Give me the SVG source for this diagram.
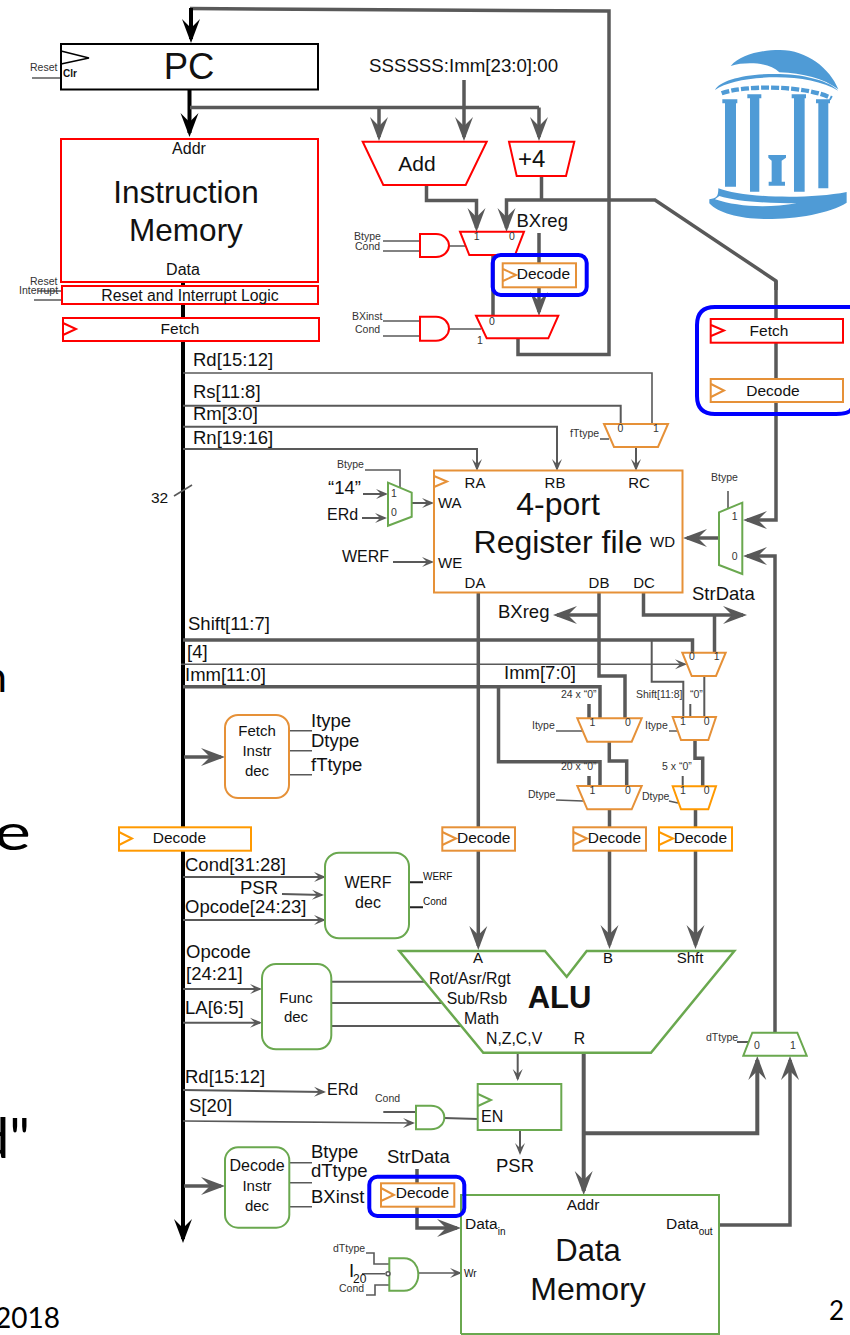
<svg xmlns="http://www.w3.org/2000/svg" width="850" height="1335" viewBox="0 0 850 1335">
<defs>
<marker id="bg" markerUnits="userSpaceOnUse" markerWidth="30" markerHeight="24" refX="22" refY="12" orient="auto"><path d="M26,12 L2,3 L11,12 L2,21 Z" fill="#595959"/></marker>
<marker id="bk" markerUnits="userSpaceOnUse" markerWidth="30" markerHeight="24" refX="22" refY="12" orient="auto"><path d="M26,12 L2,3 L11,12 L2,21 Z" fill="#000"/></marker>
<marker id="sm" markerUnits="userSpaceOnUse" markerWidth="16" markerHeight="14" refX="11" refY="7" orient="auto"><path d="M13,7 L1,2 L6,7 L1,12 Z" fill="#595959"/></marker>
</defs>
<style>
text{font-family:"Liberation Sans",Arial,sans-serif;fill:#111}
.f18{font-size:18.500px}.f16{font-size:16px}.f15{font-size:15.500px}.f10{font-size:10.500px;fill:#333}
.m{text-anchor:middle}
.w{fill:none;stroke:#595959;stroke-width:3.500}
.n{fill:none;stroke:#595959;stroke-width:2}
.t{fill:none;stroke:#595959;stroke-width:1.600}
.bl{fill:none;stroke:#000;stroke-width:4}
.a{marker-end:url(#bg)}.ak{marker-end:url(#bk)}.as{marker-end:url(#sm)}
.r{fill:#fff;stroke:#f00;stroke-width:2}
.o{fill:#fff;stroke:#e69138;stroke-width:2}
.y{fill:#fff;stroke:#f90;stroke-width:2}
.g{fill:#fff;stroke:#6aa84f;stroke-width:2}
.blue{fill:none;stroke:#00f;stroke-width:4}
.logo{fill:#4f9bd6}
.hand{font-family:"Lato",sans-serif;fill:#000;font-weight:400}
</style>

<g id="connectors">
<path class="w" d="M518,338V354.500H609V11L190,8.500"/>
<path class="bl ak" d="M191,8V39"/>
<path class="bl ak" d="M189.500,90V133"/>
<path class="bl ak" d="M183,282V1239"/>
<path class="w" d="M190,107.500H539"/>
<path class="w a" d="M379,107.500V137"/>
<path class="w a" d="M464,80V137"/>
<path class="w a" d="M539,107.500V137"/>
<path class="w" d="M541.500,176V200"/>
<path class="w a" d="M426.500,185V200.500H476.500V228"/>
<path class="w a" d="M776,290V281L655,200H506.500V228"/>
<path class="w a" d="M776,281V520H747"/>
<path class="w a" d="M539,233V312"/>
<path class="w" d="M493,255V316"/>
<path class="t" d="M383,241H420M383,251H420M449,246H465M383,321H420M383,336H420M449,329H481"/>
<path class="t" d="M32,78H61M34,300H62M38,291H62"/>
<path class="t" d="M183,373H652V424"/>
<path class="n" d="M183,405.700H620.700V424"/>
<path class="n as" d="M183,426.700H557V469"/>
<path class="n as" d="M183,449H477V469"/>
<path class="n as" d="M636,447V469"/>
<path class="t" d="M600,439H609"/>
<path class="t" d="M174,496L192,485"/>
<path class="t" d="M365,470H400V488"/>
<path class="n as" d="M363,494H386"/>
<path class="n as" d="M362,518H385"/>
<path class="n as" d="M412,503H432"/>
<path class="n as" d="M393,562H432"/>
<path class="w a" d="M775,1032V556H747"/>
<path class="w a" d="M719,538H687"/>
<path class="t" d="M728,491V508"/>
<path class="w a" d="M643.500,592V615H743"/>
<path class="w" d="M714.500,615V653"/>
<path class="w" d="M599,592V676H625V718"/>
<path class="w a" d="M599,615H557"/>
<path class="w" d="M183,640H692.500V653"/>
<path class="t as" d="M181,664.300H685"/>
<path class="n" d="M651.700,640V681.700H683.300V718"/>
<path class="w" d="M183,686.700H600V718"/>
<path class="w" d="M498.500,686.700V761.700H600V786"/>
<path class="w" d="M589,704V718M589,776V786"/>
<path class="n" d="M690.300,704V717M682.700,776V786"/>
<path class="n" d="M704.300,676V717"/>
<path class="w" d="M609.300,742V761H626.700V786"/>
<path class="w" d="M695,740V758.300H702.700V786"/>
<path class="t" d="M556,731H583M556,800L583,801M669,731H678M669,801L678,803"/>
<path class="w a" d="M478.300,592V946"/>
<path class="w a" d="M609.500,809V945"/>
<path class="w a" d="M695.500,809V945"/>
<path class="w a" d="M184,757H221"/>
<path class="t" d="M290,730.700H312M290,750.700H312M290,774.700H312"/>
<path class="n as" d="M183,877H324"/>
<path class="n as" d="M282,894L322,895"/>
<path class="n as" d="M183,920H324"/>
<path class="n" style="stroke:#222" d="M409,882.300H423M409,907.300H423"/>
<path class="n as" d="M183,989H260"/>
<path class="n as" d="M183,1022.700H260"/>
<path class="n" d="M331,981.700H425M331,1003H442M331,1026H463"/>
<path class="n as" d="M517.700,1053V1079"/>
<path class="n as" d="M520,1130V1153"/>
<path class="n" d="M444,1118L478,1119M383.300,1112H416"/>
<path class="n as" d="M183,1090L324,1092"/>
<path class="t as" d="M183,1121L413,1123"/>
<path class="w a" d="M583.700,1053V1191" style="stroke-width:4"/>
<path class="w a" d="M583.700,1133.300H757.300V1060" style="stroke-width:4"/>
<path class="w a" d="M719,1225H790V1060"/>
<path class="n" d="M737,1042H749"/>
<path class="w a" d="M184,1186H221"/>
<path class="t" d="M290,1162.700H312M290,1182.700H312M290,1206.700H312"/>
<path class="w a" d="M417,1169V1228H457"/>
<path class="t as" d="M418,1273H460"/>
<path class="t" d="M366,1253H374V1264H389M362,1273.700H385M366,1295H375V1285H389"/>
</g>

<g id="pc"><rect x="61" y="44" width="257" height="45.500" fill="#fff" stroke="#000" stroke-width="2"/><path d="M61,51L89,58L61,64" fill="none" stroke="#000" stroke-width="1.500"/>
<text x="189" y="79" font-size="36.500" class="m">PC</text><text x="63" y="77" font-size="10" font-weight="bold">Clr</text><text x="30" y="71" class="f10">Reset</text></g>

<g id="imem"><rect class="r" x="61" y="139" width="257" height="143"/><text x="189" y="154" class="f16 m">Addr</text><text x="186" y="203" font-size="31.500" class="m">Instruction</text><text x="186" y="241" font-size="31.500" class="m">Memory</text><text x="183" y="275" class="f16 m">Data</text></g>

<g id="reset-logic"><rect class="r" x="62" y="286" width="256" height="18"/><text x="190" y="300.500" class="m" style="font-size:15.800px">Reset and Interrupt Logic</text><text x="30" y="285" class="f10">Reset</text><text x="19" y="294" class="f10">Interrupt</text></g>

<g id="fetch-left"><rect class="r" x="63" y="318" width="256" height="23"/><path fill="none" stroke="#f00" stroke-width="2" d="M63,323L76,329L63,335"/><text x="180" y="334" class="f15 m">Fetch</text></g>

<g id="add"><path class="r" d="M362.700,141.700H486.700L465.700,185H383.300Z"/><text x="417" y="171" font-size="21" class="m">Add</text></g>
<g id="plus4"><path class="r" d="M509,141.700H574.300L566,176H516.700Z"/><text x="518" y="166.500" font-size="24">+4</text></g>
<g id="mux-a"><path class="r" d="M460,231.700H524L515,255H469.300Z"/><text x="476.700" y="240" class="f10 m">1</text><text x="512" y="240" class="f10 m">0</text></g>
<g id="and-a"><path class="r" d="M420,234H436C444,234 449,240 449,245.500C449,251 444,257 436,257H420Z"/><text x="354" y="240" class="f10">Btype</text><text x="355" y="250" class="f10">Cond</text></g>
<g id="mux-b"><path class="r" d="M476,315.700H558.300L548.300,338.300H486.700Z"/><text x="492" y="325" class="f10 m">0</text><text x="480" y="344" class="f10 m">1</text></g>
<g id="and-b"><path class="r" d="M420,316.700H436C444,316.700 449,323 449,328.700C449,334 444,340.700 436,340.700H420Z"/><text x="352" y="320" class="f10">BXinst</text><text x="355" y="333" class="f10">Cond</text></g>
<text x="516.500" y="226.500" class="f18">BXreg</text>
<text x="369" y="72" font-size="18.700">SSSSSS:Imm[23:0]:00</text>

<g id="decode-top"><rect class="o" x="502.700" y="263.300" width="73.300" height="24"/><path fill="none" stroke="#e69138" stroke-width="2" d="M503,269L516,275L503,281"/><text x="516.700" y="279" class="f15">Decode</text><rect class="blue" x="492.700" y="255" width="94" height="40" rx="8"/></g>

<g id="logo" transform="translate(690,40) scale(.3333)">
<path class="logo" d="M122,78C150,45 210,30 270,30C350,30 420,85 445,148C400,115 340,100 268,97C250,80 220,70 180,70C160,70 140,72 122,78Z"/>
<path class="logo" d="M75,150C90,120 170,100 270,102C350,104 420,125 445,152C400,125 330,112 260,112C180,112 110,125 75,150Z"/>
<path d="M95,160C160,135 350,135 425,175" fill="none" stroke="#4f9bd6" stroke-width="13" stroke-dasharray="24 6"/>
<path class="logo" d="M97,178H142V190H138V440H105V190H97ZM172,163H214V175H208V455H180V175H172ZM305,163H348V175H344V455H312V175H305ZM378,178H420V190H415V445H385V190H378Z"/>
<path class="logo" d="M235,345H288V353L275,362V425H285V437H236V425H245V362L235,353Z"/>
<path class="logo" d="M85,445C150,472 350,480 470,456V488C420,520 320,537 230,537C150,537 85,520 58,490V478C80,475 85,470 85,445Z"/>
<path d="M75,478C140,500 230,505 320,490C240,490 140,485 88,468Z" fill="#fff"/>
</g>

<g id="fetch-decode-right"><rect class="r" x="710.700" y="319" width="132.300" height="23.700"/><path d="M711,325L724,330.500L711,336" fill="none" stroke="#f00" stroke-width="2"/><text x="769" y="336" class="f15 m">Fetch</text>
<rect class="o" x="710.700" y="379" width="132.300" height="23"/><path d="M711,384L724,390.500L711,397" fill="none" stroke="#e69138" stroke-width="2"/><text x="773" y="396" class="f15 m">Decode</text>
<path class="blue" d="M852,307H715Q697,307 697,325V396Q697,414 715,414H836Q850,414 852,408"/></g>

<g id="ftype-mux"><path class="o" d="M604,424H668L658,447H614Z"/><text x="620.500" y="432" class="f10 m">0</text><text x="656" y="432" class="f10 m">1</text><text x="570" y="437" class="f10">fTtype</text></g>

<g id="regfile"><rect class="o" x="434" y="470.500" width="248.500" height="122"/><path d="M434,476L447,481.500L434,487" fill="none" stroke="#e69138" stroke-width="2"/>
<text x="475" y="488" class="m" font-size="15">RA</text><text x="555" y="488" class="m" font-size="15">RB</text><text x="639" y="488" class="m" font-size="15">RC</text>
<text x="438" y="508" font-size="15">WA</text><text x="438" y="568" font-size="15">WE</text><text x="475" y="588" class="m" font-size="15">DA</text><text x="599" y="588" class="m" font-size="15">DB</text><text x="644" y="588" class="m" font-size="15">DC</text><text x="650" y="547" font-size="15">WD</text>
<text x="558" y="515" font-size="32" class="m">4-port</text><text x="558" y="553" font-size="32" class="m">Register file</text></g>

<g id="wa-mux"><path class="g" d="M388,482.700L411.700,492.700V516.700L388,525.700Z"/><text x="391" y="497" class="f10">1</text><text x="391" y="516" class="f10">0</text><text x="337" y="468" class="f10">Btype</text></g>
<g id="wd-mux"><path class="g" d="M719,512.300L742.300,502.700V574L719,565Z"/><text x="734.700" y="520" class="f10 m">1</text><text x="734.700" y="560" class="f10 m">0</text><text x="711" y="481" class="f10">Btype</text></g>

<g id="m1"><path class="o" d="M682.300,652.700H725.700L716,676H691.700Z"/><text x="692" y="660" class="f10 m">0</text><text x="716.700" y="660" class="f10 m">1</text></g>
<g id="m2"><path class="o" d="M577.300,718.300H641.700L631.700,741.700H587.300Z"/><text x="592.500" y="726" class="f10 m">1</text><text x="628" y="726" class="f10 m">0</text><text x="561" y="698" class="f10">24 x “0”</text><text x="532" y="729" class="f10">Itype</text></g>
<g id="m3"><path class="o" d="M577.300,786H641.700L631.700,809.300H587.300Z"/><text x="592.500" y="794" class="f10 m">1</text><text x="628" y="794" class="f10 m">0</text><text x="561" y="770" class="f10">20 x “0”</text><text x="528" y="798" class="f10">Dtype</text></g>
<g id="m4"><path class="o" d="M672.700,717H716L708.300,740H681Z"/><text x="683" y="725" class="f10 m">1</text><text x="706.700" y="725" class="f10 m">0</text><text x="636" y="698" class="f10">Shift[11:8]</text><text x="690" y="698" class="f10">“0”</text><text x="645" y="729" class="f10">Itype</text></g>
<g id="m5"><path class="y" d="M672.700,786.300H716L708.300,809.300H681Z"/><text x="683" y="794" class="f10 m">1</text><text x="706.700" y="794" class="f10 m">0</text><text x="662" y="770" class="f10">5 x “0”</text><text x="642" y="800" class="f10">Dtype</text></g>

<g id="decode-1"><rect class="y" x="119" y="827.300" width="132" height="23.400"/><path d="M119,832L132,838.500L119,845" fill="none" stroke="#f90" stroke-width="2"/><text x="152.700" y="843" class="f15">Decode</text></g>
<g id="decode-2"><rect class="o" x="442.300" y="827.300" width="72.700" height="23.400"/><path d="M442.300,832L456,838.500L442.300,845" fill="none" stroke="#e69138" stroke-width="2"/><text x="457" y="843" class="f15">Decode</text></g>
<g id="decode-3"><rect class="o" x="573.300" y="827.300" width="72.700" height="23.400"/><path d="M573.300,832L587,838.500L573.300,845" fill="none" stroke="#e69138" stroke-width="2"/><text x="587.700" y="843" class="f15">Decode</text></g>
<g id="decode-4"><rect class="y" x="659" y="827.300" width="73" height="23.400"/><path d="M659,832L673,838.500L659,845" fill="none" stroke="#f90" stroke-width="2"/><text x="673.700" y="843" class="f15">Decode</text></g>

<g id="fetch-dec"><rect class="o" x="225" y="715" width="64" height="83" rx="13"/><text x="257" y="736" font-size="15" class="m">Fetch</text><text x="257" y="756" font-size="15" class="m">Instr</text><text x="257" y="776" font-size="15" class="m">dec</text></g>
<g id="werf-dec"><rect class="g" x="325" y="852.700" width="84" height="85.600" rx="14"/><text x="368" y="888" class="f16 m">WERF</text><text x="368" y="908" class="f16 m">dec</text><text x="423" y="880" font-size="10" fill="#333">WERF</text><text x="423" y="905" font-size="10" fill="#333">Cond</text></g>
<g id="func-dec"><rect class="g" x="262" y="964" width="69.300" height="85.300" rx="14"/><text x="296" y="1002.700" class="m" font-size="15">Func</text><text x="296" y="1022" class="m" font-size="15">dec</text></g>
<g id="alu"><path class="g" d="M399.300,951H545L566.700,976.700L586.700,951H734.300L651,1052.700H483.300Z" style="stroke-width:2.500"/>
<text x="478" y="963" class="m" font-size="15">A</text><text x="608" y="963" class="m" font-size="15">B</text><text x="690" y="963" class="m" font-size="15">Shft</text>
<text x="429" y="983.500" font-size="15.800">Rot/Asr/Rgt</text><text x="446.700" y="1004" font-size="15.800">Sub/Rsb</text><text x="464" y="1024" font-size="15.800">Math</text><text x="486" y="1044" font-size="15.800">N,Z,C,V</text><text x="579.500" y="1044" class="m" font-size="15.800">R</text>
<text x="527.700" y="1007.700" font-size="31" font-weight="bold">ALU</text></g>
<g id="psr"><rect class="g" x="477.700" y="1084" width="83.600" height="46"/><path d="M478,1094L491,1100L478,1106" fill="none" stroke="#6aa84f" stroke-width="2"/><text x="481" y="1121.700" class="f16">EN</text><text x="515" y="1172" class="f18 m">PSR</text></g>
<g id="and-psr"><path class="g" d="M416,1105.700H431C439,1105.700 444.300,1111 444.300,1117.500C444.300,1124 439,1129.300 431,1129.300H416Z"/><text x="375" y="1102" class="f10">Cond</text></g>
<g id="dttype-mux"><path class="g" d="M752.300,1032.700H797.300L806.700,1055.700H743.300Z"/><text x="757" y="1049" class="f10 m">0</text><text x="793" y="1049" class="f10 m">1</text><text x="706" y="1041" class="f10">dTtype</text></g>
<g id="decode-dec"><rect class="g" x="225" y="1147.300" width="64.300" height="80.400" rx="13"/><text x="257" y="1170.700" font-size="16" class="m">Decode</text><text x="257" y="1191" font-size="15" class="m">Instr</text><text x="257" y="1211" font-size="15" class="m">dec</text></g>
<g id="dmem"><path d="M461,1334V1195H719V1334H461" fill="none" stroke="#6aa84f" stroke-width="2"/>
<text x="583" y="1210" class="m" style="font-size:15.500px">Addr</text><text x="465" y="1229" style="font-size:15.500px">Data<tspan font-size="10" dy="6">in</tspan></text><text x="666" y="1229" style="font-size:15.500px">Data<tspan font-size="10" dy="6">out</tspan></text>
<text x="588" y="1261" font-size="31" class="m">Data</text><text x="588" y="1300" font-size="32" class="m">Memory</text></g>
<g id="decode-bot"><rect class="o" x="381" y="1183.300" width="73.300" height="23.400"/><path d="M381,1188L394,1195L381,1201" fill="none" stroke="#e69138" stroke-width="2"/><text x="395.700" y="1198" class="f15">Decode</text><rect class="blue" x="369.300" y="1176.700" width="95" height="39.300" rx="8"/></g>
<g id="and-wr"><path class="g" d="M389.300,1258.300H404C413,1258.300 418.300,1266 418.300,1274.500C418.300,1283 413,1290.700 404,1290.700H389.300Z"/><circle cx="388" cy="1273.700" r="2" fill="#fff" stroke="#595959" stroke-width="1.500"/><text x="464" y="1277" font-size="10" fill="#333">Wr</text><text x="333" y="1252" class="f10">dTtype</text><text x="339" y="1292" class="f10">Cond</text><text x="349" y="1277" class="f18">I</text><text x="353" y="1283" font-size="12">20</text></g>

<g id="labels">
<text x="193" y="366" class="f18">Rd[15:12]</text><text x="193" y="398" class="f18">Rs[11:8]</text><text x="193" y="420" class="f18">Rm[3:0]</text><text x="193" y="444" class="f18">Rn[19:16]</text>
<text x="151" y="503" font-size="15.500">32</text>
<text x="328" y="494" class="f18">“14”</text><text x="327" y="520" class="f16">ERd</text><text x="342" y="562" class="f16">WERF</text>
<text x="692" y="600" class="f18">StrData</text><text x="498" y="618" class="f18">BXreg</text>
<text x="188" y="630" class="f18">Shift[11:7]</text><text x="187" y="658" class="f18">[4]</text><text x="185" y="681" class="f18">Imm[11:0]</text><text x="504" y="679" class="f18">Imm[7:0]</text>
<text x="311" y="727" class="f18">Itype</text><text x="311" y="747" class="f18">Dtype</text><text x="311" y="771" class="f18">fTtype</text>
<text x="185" y="871" class="f18">Cond[31:28]</text><text x="240" y="894" class="f18">PSR</text><text x="185" y="913" class="f18">Opcode[24:23]</text>
<text x="186" y="957.500" class="f18">Opcode</text><text x="186" y="980" class="f18">[24:21]</text><text x="185" y="1014" class="f18">LA[6:5]</text>
<text x="185" y="1082.500" class="f18">Rd[15:12]</text><text x="327" y="1095" class="f16">ERd</text><text x="189" y="1112" class="f18">S[20]</text>
<text x="311" y="1158" class="f18">Btype</text><text x="311" y="1177" class="f18">dTtype</text><text x="311" y="1202.500" class="f18">BXinst</text><text x="387" y="1162.500" class="f18">StrData</text>
</g>
<g id="slide-text">
<text x="7" y="692" font-size="42" text-anchor="end" class="hand">n</text>
<text x="0" y="850" font-size="50" class="hand" transform="translate(-6,0) scale(1.400,1)">e</text>
<text x="30" y="1158" font-size="56" text-anchor="end" class="hand">d"</text>
<text x="60" y="1328" font-size="28" text-anchor="end" class="hand">2018</text>
<text x="829" y="1320" font-size="26" class="hand">2</text>
</g>
</svg>
